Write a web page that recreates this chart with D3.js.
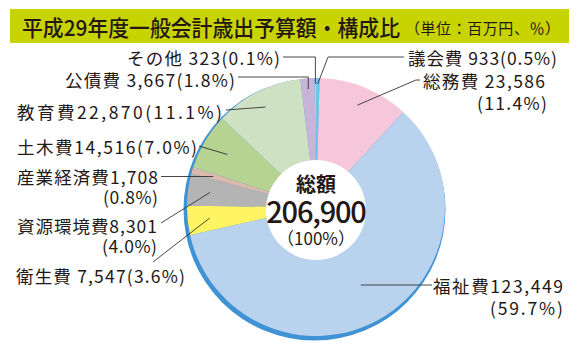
<!DOCTYPE html>
<html>
<head>
<meta charset="utf-8">
<script src="https://cdn.jsdelivr.net/npm/d3@7"></script>
<style>
  body { margin: 0; background: #fff; }
  text { font-family: "Noto Sans CJK JP", "Noto Sans", sans-serif; fill: #231815; }
</style>
</head>
<body>
<div id="chart"></div>
<script>
// data
const categories = ["議会費", "総務費", "福祉費", "衛生費", "資源環境費", "産業経済費", "土木費", "教育費", "公債費", "その他"];
const amounts = [933, 23586, 123449, 7547, 8301, 1708, 14516, 22870, 3667, 323];
const shares = ["0.5", "11.4", "59.7", "3.6", "4.0", "0.8", "7.0", "11.1", "1.8", "0.1"];
const totalAmount = 206900;
const totalShare = "100";

const sliceColors = ["#6cc5ea", "#f6c6da", "#b9d3ee", "#fff462", "#b4b4b4", "#dbb9ab", "#b6d391", "#cfe1c3", "#c8b4d8", "#a9d3e8"];

// label placement (annotation layout only): anchor point, line width, leader path
const labelLayout = [
  { x: 408, y: 57, anchor: "start", sep: " ", w: 149, path: [[404, 57], [328, 57]], tipR: 123 },
  { x: 423, y: 80, anchor: "start", sep: " ", w: 122, x2: 547, y2: 102, w2: 70, path: [[420, 80], [416, 80]], tipR: 110 },
  { x: 433, y: 285, anchor: "start", sep: "", w: 130, x2: 563, y2: 307, w2: 73, path: [[432, 285]], flatY: 285 },
  { x: 16, y: 275, anchor: "start", sep: " ", w: 169, path: [[153, 262]], tipR: 107 },
  { x: 157, y: 225, anchor: "end", sep: "", w: 140, x2: 157, y2: 245, w2: 55, path: [[161, 223]], tipR: 107 },
  { x: 158, y: 176, anchor: "end", sep: "", w: 141, x2: 158, y2: 196, w2: 55, path: [[161, 176.5]], flatY: 176.5 },
  { x: 17, y: 146, anchor: "start", sep: "", w: 180, path: [[199, 146]], tipR: 103 },
  { x: 17, y: 111, anchor: "start", sep: "", w: 205, path: [[226, 110]], tipR: 112 },
  { x: 235, y: 79, anchor: "end", sep: " ", w: 170, path: [[238, 77]], elbowY: 77, tipR: 118 },
  { x: 280, y: 57, anchor: "end", sep: " ", w: 153, path: [[283, 57]], elbowY: 57, tipR: 123 }
];

const width = 577, height = 351;
const cx = 316, cy = 207, radius = 129;

const svg = d3.select("#chart")
  .append("svg")
  .attr("width", width)
  .attr("height", height);

// title bar
svg.append("rect")
  .attr("x", 10).attr("y", 9)
  .attr("width", 559).attr("height", 34)
  .attr("fill", "#c7d401");

svg.append("text")
  .attr("x", 22).attr("y", 26)
  .attr("dominant-baseline", "central")
  .attr("font-size", 22)
  .attr("font-weight", 500)
  .attr("textLength", 378)
  .attr("lengthAdjust", "spacingAndGlyphs")
  .text("平成29年度一般会計歳出予算額・構成比");

svg.append("text")
  .attr("x", 560).attr("y", 27)
  .attr("text-anchor", "end")
  .attr("dominant-baseline", "central")
  .attr("font-size", 15)
  .attr("textLength", 155)
  .attr("lengthAdjust", "spacing")
  .text("（単位：百万円、％）");

const fmt = d3.format(",");
const data = categories.map((c, i) => ({ name: c, value: amounts[i], share: shares[i], i: i }));

const pie = d3.pie().sort(null).value((d) => d.value);
const arcs = pie(data);
const arc = d3.arc().innerRadius(0).outerRadius(radius);

const g = svg.append("g").attr("transform", `translate(${cx}, ${cy})`);

// shadow ring
g.append("circle")
  .attr("cx", -1.5).attr("cy", 2.5)
  .attr("r", radius + 2)
  .attr("fill", "#3f92d3");

g.selectAll("path.slice")
  .data(arcs)
  .join("path")
  .attr("class", "slice")
  .attr("d", arc)
  .attr("fill", (d) => sliceColors[d.index]);

// leader lines
const tipPoint = function (d, lay) {
  const a = (d.startAngle + d.endAngle) / 2;
  let r = lay.tipR;
  if (lay.flatY !== undefined) r = (lay.flatY - cy) / -Math.cos(a);
  return [cx + r * Math.sin(a), cy - r * Math.cos(a)];
};

const line = d3.line();
svg.append("g")
  .selectAll("path")
  .data(arcs)
  .join("path")
  .attr("d", function (d) {
    const lay = labelLayout[d.index];
    const tip = tipPoint(d, lay);
    const pts = lay.path.slice();
    if (lay.elbowY !== undefined) pts.push([tip[0], lay.elbowY]);
    pts.push(tip);
    return line(pts);
  })
  .attr("fill", "none")
  .attr("stroke", "#333")
  .attr("stroke-width", 0.9);

// center hole
g.append("circle")
  .attr("cx", 0).attr("cy", 3)
  .attr("r", 50)
  .attr("fill", "#fff");

const center = g.append("text")
  .attr("text-anchor", "middle")
  .attr("dominant-baseline", "central");
center.append("tspan")
  .attr("x", 0).attr("y", -24)
  .attr("font-size", 20)
  .attr("font-weight", 700)
  .text("総額");
center.append("tspan")
  .attr("x", 0).attr("y", 3)
  .attr("font-size", 29)
  .attr("font-weight", 500)
  .attr("letter-spacing", -1.2)
  .text(fmt(totalAmount));
center.append("tspan")
  .attr("x", 0).attr("y", 30)
  .attr("font-size", 17)
  .text("（" + totalShare + "%）");

// labels
const labels = svg.append("g")
  .attr("font-size", 17.5);

data.forEach(function (d) {
  const lay = labelLayout[d.i];
  const head = d.name + lay.sep + fmt(d.value);
  const tail = "(" + d.share + "%)";
  const t = labels.append("text")
    .attr("text-anchor", lay.anchor)
    .attr("dominant-baseline", "central");
  t.append("tspan")
    .attr("x", lay.x).attr("y", lay.y)
    .attr("textLength", lay.w)
    .attr("lengthAdjust", "spacing")
    .text(lay.x2 !== undefined ? head : head + tail);
  if (lay.x2 !== undefined) {
    t.append("tspan")
      .attr("x", lay.x2).attr("y", lay.y2)
      .attr("text-anchor", "end")
      .attr("textLength", lay.w2)
      .attr("lengthAdjust", "spacing")
      .text(tail);
  }
});
</script>
</body>
</html>
